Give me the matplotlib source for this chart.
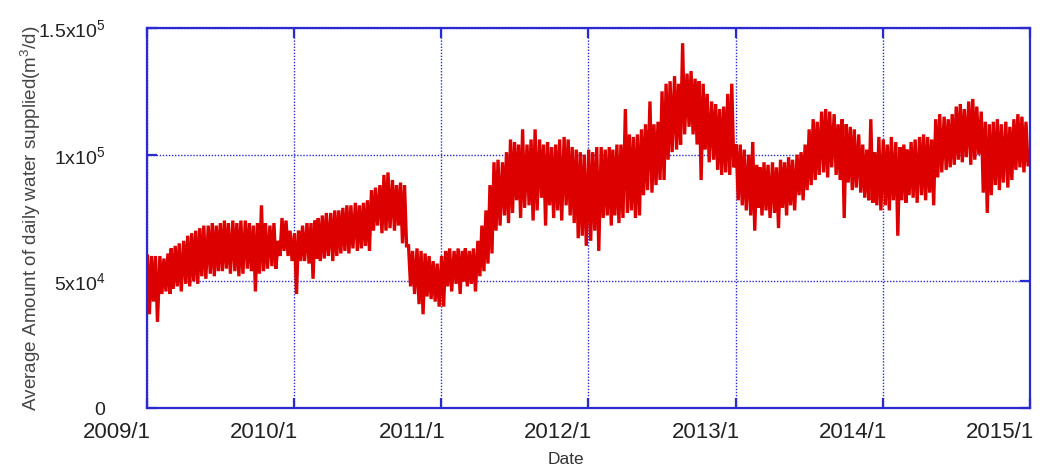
import numpy as np
import matplotlib
matplotlib.use("Agg")
import matplotlib.pyplot as plt
import matplotlib.transforms as mtransforms

plt.rcParams['font.family'] = ['Liberation Sans', 'DejaVu Sans']
plt.rcParams['mathtext.fontset'] = 'custom'
plt.rcParams['mathtext.rm'] = 'Liberation Sans'
plt.rcParams['mathtext.it'] = 'Liberation Sans'

# daily supply, read as the high / low of each ten-day period (x1000 m3/d)
years = [2009, 2010, 2011, 2012, 2013, 2014]

high = {
    2009: [60, 60, 60, 60, 59, 61, 63, 64, 65, 66, 68, 69, 70, 71, 72, 72, 73, 72,
           73, 74, 73, 74, 73, 74, 74, 73, 72, 73, 80, 73, 72, 73, 66, 75, 74, 70],
    2010: [69, 70, 72, 73, 73, 74, 75, 76, 77, 77, 78, 78, 79, 80, 80, 81, 80, 81,
           82, 86, 87, 88, 92, 93, 90, 88, 89, 88, 64, 62, 63, 62, 61, 60, 58, 57],
    2011: [60, 62, 63, 62, 63, 62, 63, 62, 63, 66, 72, 78, 88, 97, 98, 97, 101, 106,
           105, 104, 110, 104, 106, 110, 106, 104, 105, 103, 104, 106, 107, 106, 103, 102, 101, 100],
    2012: [102, 101, 103, 103, 102, 103, 102, 104, 104, 118, 108, 107, 108, 110, 112, 121, 112, 113,
           125, 128, 129, 131, 128, 144, 132, 133, 130, 129, 128, 124, 121, 120, 118, 119, 124, 128],
    2013: [104, 104, 102, 100, 105, 96, 95, 97, 96, 97, 95, 98, 97, 99, 98, 100, 101, 104,
           110, 114, 113, 117, 118, 117, 116, 112, 114, 112, 111, 110, 108, 104, 102, 114, 101, 107],
    2014: [106, 104, 107, 105, 103, 104, 102, 105, 106, 107, 108, 107, 106, 114, 116, 115, 114, 116,
           119, 120, 118, 121, 122, 119, 117, 113, 112, 113, 114, 112, 113, 111, 114, 116, 115, 113],
}

low = {
    2009: [37, 42, 34, 45, 46, 45, 47, 48, 46, 49, 48, 50, 49, 52, 51, 53, 52, 54,
           54, 55, 53, 54, 52, 53, 55, 54, 46, 53, 54, 55, 56, 55, 60, 62, 60, 58],
    2010: [45, 58, 58, 57, 51, 59, 58, 59, 60, 58, 60, 61, 62, 61, 63, 62, 63, 64,
           62, 70, 72, 69, 70, 71, 70, 72, 65, 64, 48, 45, 41, 37, 44, 43, 42, 40],
    2011: [40, 48, 46, 49, 45, 50, 48, 49, 46, 52, 54, 57, 61, 70, 72, 76, 73, 77,
           82, 75, 79, 80, 74, 78, 83, 72, 80, 75, 78, 74, 80, 76, 73, 67, 68, 64],
    2012: [66, 70, 62, 75, 76, 72, 76, 73, 75, 77, 78, 75, 76, 84, 86, 85, 88, 90,
           90, 98, 101, 102, 104, 108, 111, 108, 104, 90, 102, 97, 98, 94, 92, 93, 92, 95],
    2013: [82, 80, 78, 76, 70, 79, 76, 78, 75, 77, 71, 79, 76, 80, 78, 84, 82, 86,
           88, 90, 92, 93, 91, 95, 92, 90, 75, 89, 86, 87, 85, 83, 82, 81, 80, 78],
    2014: [80, 78, 82, 68, 82, 81, 84, 83, 81, 84, 82, 85, 80, 91, 93, 94, 95, 96,
           98, 97, 99, 96, 98, 100, 85, 77, 84, 88, 86, 89, 87, 90, 94, 95, 93, 96],
}

y_ticks = [0, 50000, 100000, 150000]
y_labels = ['0', r'5x10$^{4}$', r'1x10$^{5}$', r'1.5x10$^{5}$']
x_labels = ['2009/1', '2010/1', '2011/1', '2012/1', '2013/1', '2014/1', '2015/1']

# zigzag: high on day 2/12/22, low five days later
dates = []
values = []
for y in years:
    for i in range(36):
        m = i // 3 + 1
        d = 2 + 10 * (i % 3)
        t = np.datetime64(f'{y}-{m:02d}-{d:02d}')
        dates += [t, t + np.timedelta64(5, 'D')]
        values += [high[y][i] * 1000, low[y][i] * 1000]

blue = '#2a2ad0'

fig = plt.figure(figsize=(10.43, 4.65), dpi=100)
ax = fig.add_axes([147 / 1043, 57 / 465, 883 / 1043, 380 / 465])

ax.plot(np.array(dates), values, color='#dd0000', lw=2.4, solid_joinstyle='miter')

ax.set_xlim(np.datetime64('2009-01-01'), np.datetime64('2015-01-01'))
ax.set_ylim(0, 150000)

ax.set_xticks([np.datetime64(f'{y}-01-01') for y in range(2009, 2016)])
ax.set_xticklabels(x_labels)
ax.set_yticks(y_ticks)
ax.set_yticklabels(y_labels)

ax.grid(True, color=blue, linestyle=(0, (1, 1.2)), lw=1)
for s in ax.spines.values():
    s.set_color(blue)
    s.set_linewidth(1.6)
ax.tick_params(direction='in', length=7, width=1.6, color=blue,
               top=True, right=True, labelcolor='#222222')
ax.tick_params(axis='x', labelsize=16, pad=10)
ax.tick_params(axis='y', labelsize=14, pad=30)

# x labels sit just left of their tick
shift = mtransforms.ScaledTranslation(4 / 100, 0, fig.dpi_scale_trans)
for lab in ax.get_xticklabels():
    lab.set_horizontalalignment('right')
    lab.set_transform(lab.get_transform() + shift)

ax.set_ylabel('Average Amount of daily water supplied(m$^{3}$/d)', fontsize=13.6,
              color='#444444', labelpad=2)
ax.yaxis.set_label_coords(-0.118, 0.5)
ax.set_xlabel('Date', fontsize=12.5, color='#333333', labelpad=4)
ax.xaxis.set_label_coords(0.474, -0.115)

fig.savefig('out.png', dpi=100, facecolor='white')
